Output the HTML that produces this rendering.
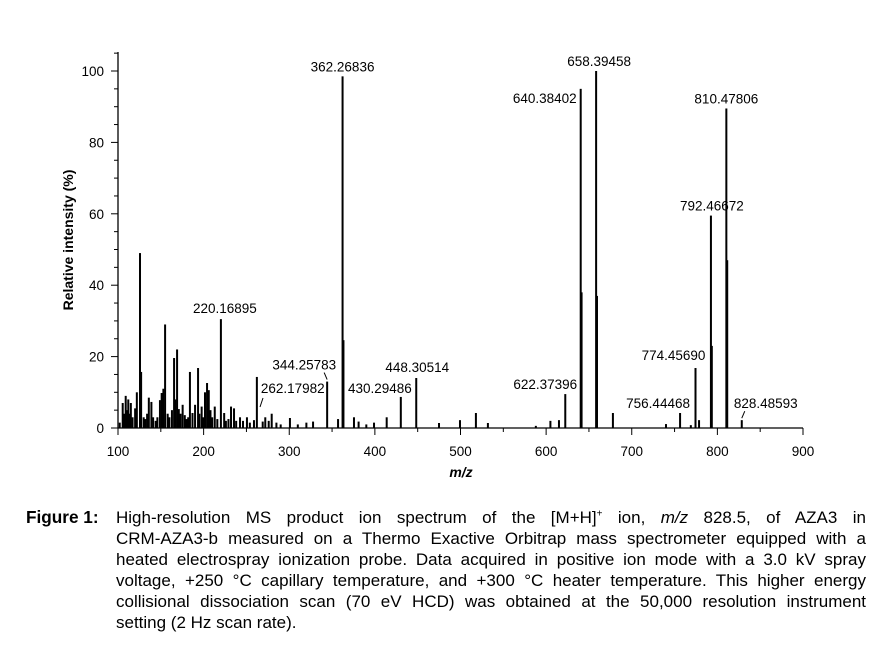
<!DOCTYPE html>
<html><head><meta charset="utf-8"><style>
body{margin:0;background:#fff;width:881px;height:646px;overflow:hidden;font-family:"Liberation Sans",Arial,sans-serif}
#fig{position:absolute;left:26px;top:507px;font-size:17.2px;font-weight:bold;line-height:21px}
#cap{position:absolute;left:116px;top:507px;width:750px;font-size:17px;line-height:21px;color:#000}
#cap span{display:block;text-align:justify;text-align-last:justify;white-space:nowrap}
#cap span.l{text-align-last:left}
</style></head><body>
<svg id="chart" width="881" height="500" style="position:absolute;left:0;top:0" font-family="Liberation Sans, Arial, sans-serif"></svg>
<div id="fig">Figure 1:</div>
<div id="cap">
<span>High-resolution MS product ion spectrum of the [M+H]<sup style="font-size:10px;line-height:0">+</sup> ion, <i>m/z</i> 828.5, of AZA3 in</span>
<span>CRM-AZA3-b measured on a Thermo Exactive Orbitrap mass spectrometer equipped with a</span>
<span>heated electrospray ionization probe. Data acquired in positive ion mode with a 3.0 kV spray</span>
<span>voltage, +250 °C capillary temperature, and +300 °C heater temperature. This higher energy</span>
<span>collisional dissociation scan (70 eV HCD) was obtained at the 50,000 resolution instrument</span>
<span class="l">setting (2 Hz scan rate).</span>
</div>
<script>
const peakMz=[102,105.5,107,109,110.5,112,113.5,115,117,120,122,125.7,127,130,132,134,136,139,141,144,146,149,151,153,155,158,160,163,165.5,167,169,171,173,175.5,178,180,182,184,187,190,193.5,195,197.7,199.5,201.6,204,206,208,210,213,216,220.17,224,226,229,232,235.5,238,242.5,246,250.6,254,258.8,262.18,269,272,276,279.5,285,290,300.8,310,320,327.8,344.26,357,362.27,363.3,375.6,381,390,399,413.8,430.29,448.31,474.9,499.4,518,532,588,605,615,622.37,640.38,641.4,658.39,659.4,678,740,756.44,769,774.46,778.6,792.47,793.5,810.48,811.5,828.49];
const peakInt=[1.5,7,4,9,5,8,4,7,3,5.5,10,49,15.7,3,2.5,4,8.5,7.3,3,2,3,7.8,9.8,11,29,4,3,5,19.6,8,22,5.3,4,6.5,3.6,2.5,3,15.7,4.2,6.5,16.8,4,6,3,10,12.6,10.6,5,3,6,2.5,30.5,4.2,2,2.5,6,5.5,2,3,2,3,1.5,2.2,14.3,1.8,3,2,4,1.5,1,2.8,1,1.5,1.8,13,2.5,98.5,24.6,3,1.8,1,1.5,3,8.7,14,1.4,2.2,4.2,1.4,0.6,2,2.2,9.5,95,38,100,37,4.2,1.1,4.2,0.8,16.8,2.2,59.5,23,89.5,47,2.2];
const labelMz=[362.27,658.39,640.38,810.48,792.47,220.17,344.26,262.18,430.29,448.31,622.37,774.46,756.44,828.49];
const labelInt=[98.5,100,95,89.5,59.5,30.5,13,14.3,8.7,14,9.5,16.8,4.2,2.2];
const labelText=["362.26836","658.39458","640.38402","810.47806","792.46672","220.16895","344.25783","262.17982","430.29486","448.30514","622.37396","774.45690","756.44468","828.48593"];
const xTicks=[100,200,300,400,500,600,700,800,900];
const yTicks=[0,20,40,60,80,100];
// label layout offsets (pixels, not data)
const lo=[[0,-5,'middle'],[3,-5,'middle'],[-4,14,'end'],[0,-5,'middle'],[1,-5,'middle'],[4,-6,'middle'],[9,-12,'end'],[4,16,'start'],[11,-4,'end'],[1,-6,'middle'],[-20,-5,'middle'],[-22,-8,'middle'],[-22,-5,'middle'],[24,-12,'middle']];
const svg=document.getElementById('chart');const NS='http://www.w3.org/2000/svg';
const X=m=>118+(m-100)*0.85625, Y=v=>428-v*3.57;
function mk(t,a,p){const e=document.createElementNS(NS,t);for(const k in a)e.setAttribute(k,a[k]);(p||svg).appendChild(e);return e;}
peakMz.forEach((m,i)=>{const r=mk('rect',{x:X(m)-1,y:Y(peakInt[i]),width:2,height:peakInt[i]*3.57,fill:'#000'});

});
const ax=mk('path',{d:'M118,52V428H803',stroke:'#000','stroke-width':1.3,fill:'none'});


for(let v=100;v<=900;v+=50){mk('line',{x1:X(v),x2:X(v),y1:428,y2:v%100?432:435,stroke:'#000'});}
xTicks.forEach(v=>{const t=mk('text',{x:X(v),y:456,'text-anchor':'middle','font-size':13.5});t.textContent=v;

});
for(let v=0;v<=105;v+=5){mk('line',{x1:v%20?114:111,x2:118,y1:Y(v),y2:Y(v),stroke:'#000'});}
yTicks.forEach(v=>{const t=mk('text',{x:104,y:Y(v)+5,'text-anchor':'end','font-size':13.5});t.textContent=v;

});
labelMz.forEach((m,i)=>{const t=mk('text',{x:X(m)+lo[i][0],y:Y(labelInt[i])+lo[i][1],'text-anchor':lo[i][2],'font-size':13.5});t.textContent=labelText[i];

});
mk('line',{x1:263,y1:398,x2:260,y2:407,stroke:'#000'});
mk('line',{x1:X(344.26)-3,y1:Y(13)-9,x2:X(344.26),y2:Y(13)-2,stroke:'#000'});
mk('line',{x1:X(828.49),y1:Y(2.2)-2,x2:X(828.49)+3,y2:Y(2.2)-9,stroke:'#000'});
const xt=mk('text',{x:461,y:477,'text-anchor':'middle','font-size':14,'font-weight':'bold','font-style':'italic'});xt.textContent='m/z';


const yt=mk('text',{x:0,y:0,transform:'translate(73,240) rotate(-90)','text-anchor':'middle','font-size':14,'font-weight':'bold'});yt.textContent='Relative intensity (%)';


</script>
</body></html>
